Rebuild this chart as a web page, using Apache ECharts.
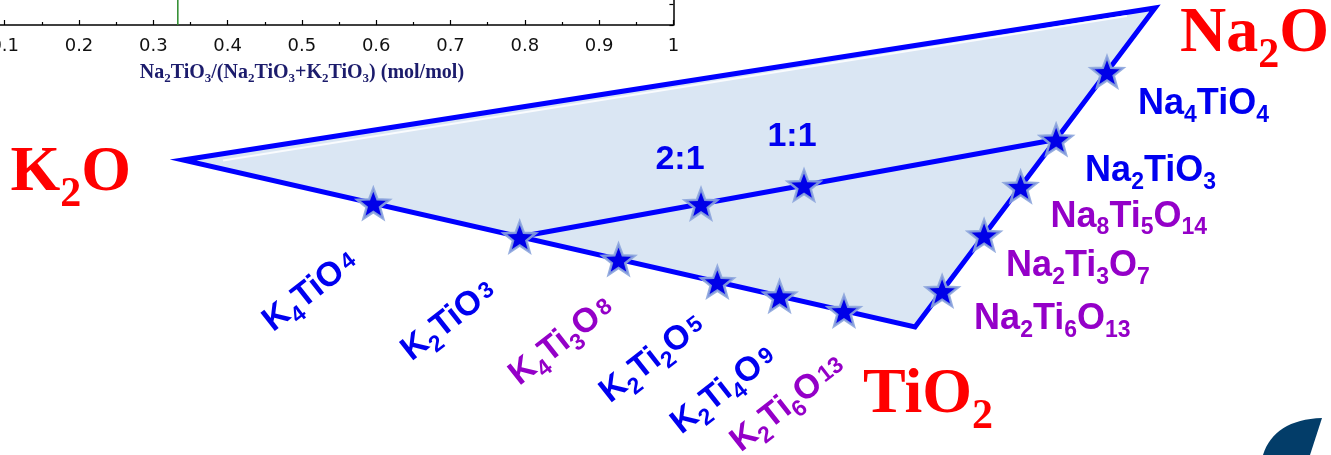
<!DOCTYPE html>
<html><head><meta charset="utf-8">
<script src="https://cdn.jsdelivr.net/npm/echarts@6/dist/echarts.min.js"></script>
<style>html,body{margin:0;padding:0;background:#fff}#c{width:1331px;height:455px}</style>
</head><body><div id="c"></div>
<script>
// ---------- data ----------
// partial axis of the upper chart
const ratioAxisTicks = [0.1, 0.2, 0.3, 0.4, 0.5, 0.6, 0.7, 0.8, 0.9, 1];
const ratioMarker = 0.333;            // green vertical line (Na2TiO3 share)

// ternary vertices: composition [K2O, Na2O, TiO2]
const vertexNames = ['K2O', 'Na2O', 'TiO2'];
const vertexComps = [[1, 0, 0], [0, 1, 0], [0, 0, 1]];

// compounds on K2O–TiO2 edge (TiO2 fraction as placed in the picture)
const kCompounds = ['K4TiO4', 'K2TiO3', 'K4Ti3O8', 'K2Ti2O5', 'K2Ti4O9', 'K2Ti6O13'];
const kTiO2 = [0.26, 0.46, 0.595, 0.73, 0.815, 0.903];
const kColors = ['blue', 'blue', 'purple', 'blue', 'blue', 'purple'];

// compounds on Na2O–TiO2 edge
const naCompounds = ['Na4TiO4', 'Na2TiO3', 'Na8Ti5O14', 'Na2Ti3O7', 'Na2Ti6O13'];
const naTiO2 = [0.20, 0.412, 0.56, 0.712, 0.887];
const naColors = ['blue', 'blue', 'purple', 'purple', 'purple'];

// points on the K2TiO3–Na2TiO3 join (share of Na2TiO3 along the join)
const tieRatios = ['2:1', '1:1'];
const tieNaShare = [0.338, 0.53];

// ---------- layout / style ----------
const frame = { K2O: [183, 160], Na2O: [1155, 8], TiO2: [915, 327] }; // projection frame (hidden axes units)
const COL = { blue: '#0000f0', purple: '#9400c8', red: '#ff0000', line: '#0000ff' };
const kLabelOffsets = [[-63, 88], [-71, 84], [-57, 82], [-65, 77], [-56, 94], [-56, 93]];
const kLabelRotate = 38;
const naLabelOffsets = [[31, 32], [29, 32], [30, 30], [22, 31], [32, 28]];
const tieLabelOffsets = [[-21, -44], [-12, -49]];
const vertexLabelLayout = [
  { dx: -52, dy: 13, align: 'right' },
  { dx: 25, dy: 26, align: 'left' },
  { dx: -52, dy: 68, align: 'left' }
];

function project(c) {
  const v = [frame.K2O, frame.Na2O, frame.TiO2];
  return [c[0] * v[0][0] + c[1] * v[1][0] + c[2] * v[2][0],
          c[0] * v[0][1] + c[1] * v[1][1] + c[2] * v[2][1]];
}
const kComp = kTiO2.map(t => [1 - t, 0, t]);
const naComp = naTiO2.map(t => [0, 1 - t, t]);
const k2tio3 = kComp[1], na2tio3 = naComp[1];
const tieComp = tieNaShare.map(s => [0, 1, 2].map(i => (1 - s) * k2tio3[i] + s * na2tio3[i]));

// star symbol
const starPath = (function () {
  let d = '';
  for (let i = 0; i < 10; i++) {
    const a = -Math.PI / 2 + i * Math.PI / 5, r = i % 2 ? 21 : 50;
    d += (i ? 'L' : 'M') + (50 + r * Math.cos(a)).toFixed(2) + ' ' + (50 + r * Math.sin(a)).toFixed(2);
  }
  return 'path://' + d + 'Z';
})();

// formula -> rich text
function richFormula(f, endMid) {
  const parts = f.match(/[A-Za-z]+|\d+/g);
  return parts.map((p, i) => {
    if (/\d/.test(p)) return '{' + (endMid && i === parts.length - 1 ? 'e' : 's') + '|' + p + '}';
    return '{m|' + p + '}';
  }).join('');
}
function richSans(color, size, sub) {
  return {
    m: { fontSize: size, fontWeight: 'bold', fontFamily: 'Liberation Sans', fill: color },
    s: { fontSize: sub, fontWeight: 'bold', fontFamily: 'Liberation Sans', fill: color, padding: [Math.round(sub * 1.0), 0, 0, 0] },
    e: { fontSize: sub, fontWeight: 'bold', fontFamily: 'Liberation Sans', fill: color, padding: [0, 0, 0, 3] }
  };
}
const richSerif = {
  m: { fontSize: 64, fontWeight: 'bold', fontFamily: 'Liberation Serif', fill: COL.red },
  s: { fontSize: 42, fontWeight: 'bold', fontFamily: 'Liberation Serif', fill: COL.red, padding: [44, 0, 0, 0] }
};

const chart = echarts.init(document.getElementById('c'), null, { renderer: 'canvas' });

const option = {
  animation: false,
  backgroundColor: '#ffffff',
  grid: [
    { left: -69.6, width: 743, top: -178, height: 203, containLabel: false, outerBoundsMode: 'none' },
    { left: 0, top: 0, width: 1331, height: 455, containLabel: false, outerBoundsMode: 'none' }
  ],
  xAxis: [
    {
      gridIndex: 0, type: 'value', min: 0, max: 1, interval: 0.1,
      axisLine: { show: true, onZero: false, lineStyle: { color: '#000', width: 1.5 } },
      axisTick: { show: true, inside: true, length: 5, lineStyle: { color: '#000', width: 1.2 } },
      minorTick: { show: true, splitNumber: 2, length: 3, lineStyle: { color: '#000', width: 1.2 } },
      splitLine: { show: false },
      axisLabel: {
        margin: 12, fontSize: 18, color: '#111', fontFamily: 'DejaVu Sans', hideOverlap: false,
        showMinLabel: true, showMaxLabel: true,
        formatter: v => {
          const hit = ratioAxisTicks.find(t => Math.abs(t - v) < 1e-6);
          return hit === undefined ? '' : (hit === 1 ? '1' : hit.toFixed(1));
        }
      },
      name: '{b|Na}{s|2}{b|TiO}{s|3}{b|/(Na}{s|2}{b|TiO}{s|3}{b|+K}{s|2}{b|TiO}{s|3}{b|) (mol/mol)}',
      nameLocation: 'middle', nameGap: 35,
      nameTextStyle: {
        rich: {
          b: { fontSize: 20, fontWeight: 'bold', fontFamily: 'Liberation Serif', color: '#1c1c6c' },
          s: { fontSize: 13, fontWeight: 'bold', fontFamily: 'Liberation Serif', color: '#1c1c6c', padding: [12, 0, 0, 0] }
        }
      }
    },
    { gridIndex: 1, type: 'value', min: 0, max: 1331, show: false }
  ],
  yAxis: [
    {
      gridIndex: 0, type: 'value', position: 'right', min: 0, max: 10, interval: 1,
      axisLine: { show: true, onZero: false, lineStyle: { color: '#000', width: 1.5 } },
      axisTick: { show: true, inside: true, length: 4, lineStyle: { color: '#000', width: 1.2 } },
      axisLabel: { show: false }, splitLine: { show: false }
    },
    { gridIndex: 1, type: 'value', min: 0, max: 455, inverse: true, show: false }
  ],
  series: [
    {
      name: 'ratio marker', type: 'line', xAxisIndex: 0, yAxisIndex: 0, symbol: 'none',
      data: [[ratioMarker, 0], [ratioMarker, 10]],
      lineStyle: { color: '#2a8a2a', width: 1.5 }, z: 3
    },
    {
      name: 'triangle', type: 'custom', xAxisIndex: 1, yAxisIndex: 1, silent: true, z: 1,
      data: [0],
      renderItem: function (params, api) {
        const pts = vertexComps.map(c => api.coord(project(c)));
        return {
          type: 'group', children: [
            { type: 'polygon', shape: { points: pts }, style: { fill: '#dae6f3', stroke: COL.line, lineWidth: 5, lineJoin: 'miter' } },
            { type: 'polyline', shape: { points: [[pts[0][0] + 40, pts[0][1] + 0.5], [pts[1][0] - 28, pts[1][1] + 8]] },
              style: { stroke: 'rgba(255,255,255,0.85)', lineWidth: 2, fill: null } },
            { type: 'path', shape: { pathData: 'M1263 455 C1270 432 1290 419 1322 418 L1310 455 Z', layout: 'center', x: 1263, y: 418, width: 59, height: 37 },
              style: { fill: '#033d69' } }
          ]
        };
      }
    },
    {
      name: 'join', type: 'line', xAxisIndex: 1, yAxisIndex: 1, symbol: 'none', z: 2,
      data: [project(k2tio3), project(na2tio3)],
      lineStyle: { color: COL.line, width: 5 }
    },
    {
      name: 'compounds', type: 'scatter', xAxisIndex: 1, yAxisIndex: 1, z: 3,
      symbol: starPath, symbolSize: 32, symbolKeepAspect: true,
      data: kComp.concat(naComp, tieComp).map(project),
      itemStyle: { color: '#0000e8', borderColor: 'rgba(140,165,220,0.9)', borderWidth: 2.5, opacity: 1 }
    },
    {
      name: 'labels', type: 'custom', xAxisIndex: 1, yAxisIndex: 1, silent: true, z: 4,
      data: [0],
      renderItem: function (params, api) {
        const ch = [];
        kComp.forEach((c, i) => {
          const p = api.coord(project(c));
          ch.push({
            type: 'text', x: p[0] + kLabelOffsets[i][0], y: p[1] + kLabelOffsets[i][1],
            rotation: kLabelRotate * Math.PI / 180,
            style: { text: richFormula(kCompounds[i], true), rich: richSans(COL[kColors[i]], 34, 23), align: 'center', verticalAlign: 'middle' }
          });
        });
        naComp.forEach((c, i) => {
          const p = api.coord(project(c));
          ch.push({
            type: 'text', x: p[0] + naLabelOffsets[i][0], y: p[1] + naLabelOffsets[i][1],
            style: { text: richFormula(naCompounds[i], false), rich: richSans(COL[naColors[i]], 36, 23), align: 'left', verticalAlign: 'middle' }
          });
        });
        tieComp.forEach((c, i) => {
          const p = api.coord(project(c));
          ch.push({
            type: 'text', x: p[0] + tieLabelOffsets[i][0], y: p[1] + tieLabelOffsets[i][1],
            style: { text: tieRatios[i], fontSize: 34, fontWeight: 'bold', fontFamily: 'Liberation Sans', fill: COL.blue, align: 'center', verticalAlign: 'middle' }
          });
        });
        vertexComps.forEach((c, i) => {
          const p = api.coord(project(c));
          const L = vertexLabelLayout[i];
          ch.push({
            type: 'text', x: p[0] + L.dx, y: p[1] + L.dy,
            style: { text: richFormula(vertexNames[i], false), rich: richSerif, align: L.align, verticalAlign: 'middle' }
          });
        });
        return { type: 'group', children: ch };
      }
    }
  ]
};
chart.setOption(option);
</script>
</body></html>
